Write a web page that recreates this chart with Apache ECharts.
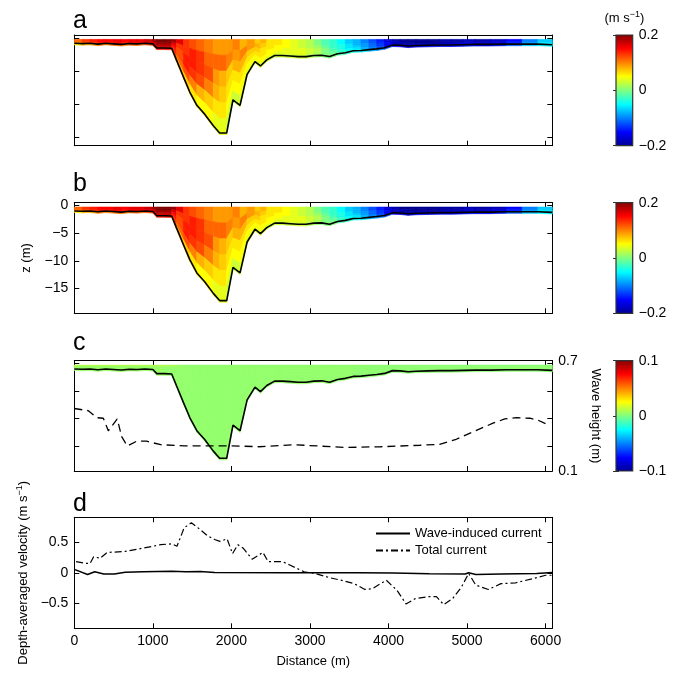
<!DOCTYPE html>
<html>
<head>
<meta charset="utf-8">
<script src="https://cdn.jsdelivr.net/npm/echarts@6/dist/echarts.min.js"></script>
<style>html,body{margin:0;padding:0;background:#fff}#chart{width:683px;height:674px}</style>
</head>
<body>
<div id="chart"></div>
<script>
// ---------------- DATA ----------------
// Transect stations (distance, m) and bed level (z, m)
const stations = [0,100,200,300,400,500,600,700,800,900,1000,1050,1150,1240,1300,1390,1470,1560,1660,1770,1850,1940,2020,2110,2200,2300,2370,2450,2550,2650,2750,2850,2950,3050,3150,3250,3350,3450,3550,3650,3750,3850,3950,4050,4150,4250,4350,4500,4650,4800,4950,5100,5300,5500,5700,5900,6085];
const bedZ = [-1.0,-1.05,-1.0,-1.15,-1.0,-1.1,-1.2,-1.05,-1.1,-1.0,-1.1,-1.85,-1.85,-1.9,-4.0,-7.1,-9.8,-12.2,-13.8,-15.9,-17.2,-17.2,-11.2,-12.2,-6.6,-4.3,-5.1,-4.0,-3.2,-3.2,-3.3,-3.4,-3.4,-3.2,-3.15,-3.4,-2.9,-2.7,-2.35,-2.3,-2.15,-2.0,-1.8,-1.3,-1.35,-1.5,-1.4,-1.35,-1.3,-1.3,-1.25,-1.2,-1.2,-1.15,-1.15,-1.15,-1.25];

// Current velocity (m/s) in 6 terrain-following layers (surface -> bed), one value per cell between stations
const velL1 = [0.11,0.13,0.14,0.15,0.15,0.16,0.15,0.16,0.16,0.17, 0.19,0.2,0.2,0.19,0.16,0.13,0.12,0.11,0.10,0.09, 0.09,0.09,0.10,0.08,0.09,0.07,0.08,0.06,0.06,0.05, 0.04,0.03,0.02,0.0,-0.02,-0.03,-0.05,-0.07,-0.08,-0.10, -0.12,-0.14,-0.17,-0.19,-0.2,-0.2,-0.2,-0.2,-0.19,-0.19, -0.18,-0.19,-0.18,-0.15,-0.10,-0.07];
const velL2 = [0.11,0.13,0.14,0.15,0.15,0.16,0.15,0.16,0.16,0.17, 0.19,0.2,0.2,0.17,0.13,0.13,0.14,0.13,0.11,0.11, 0.11,0.10,0.09,0.10,0.09,0.08,0.07,0.06,0.06,0.05, 0.04,0.03,0.02,0.0,-0.02,-0.03,-0.05,-0.07,-0.08,-0.10, -0.12,-0.14,-0.17,-0.19,-0.2,-0.2,-0.2,-0.2,-0.19,-0.19, -0.18,-0.19,-0.18,-0.15,-0.10,-0.07];
const velL3 = [0.11,0.13,0.14,0.15,0.15,0.16,0.15,0.16,0.16,0.17, 0.18,0.19,0.19,0.15,0.12,0.14,0.14,0.13,0.12,0.09, 0.08,0.07,0.08,0.08,0.07,0.07,0.06,0.06,0.05,0.05, 0.04,0.03,0.02,0.01,-0.01,-0.03,-0.04,-0.06,-0.08,-0.09, -0.11,-0.13,-0.16,-0.18,-0.19,-0.2,-0.2,-0.2,-0.19,-0.19, -0.18,-0.18,-0.17,-0.14,-0.10,-0.07];
const velL4 = [0.10,0.12,0.13,0.14,0.14,0.15,0.14,0.15,0.15,0.16, 0.17,0.18,0.18,0.14,0.12,0.14,0.13,0.12,0.10,0.08, 0.07,0.06,0.06,0.06,0.06,0.06,0.06,0.05,0.05,0.04, 0.04,0.04,0.03,0.02,0.0,-0.02,-0.04,-0.06,-0.07,-0.09, -0.11,-0.13,-0.16,-0.18,-0.19,-0.19,-0.19,-0.19,-0.18,-0.18, -0.17,-0.18,-0.17,-0.14,-0.09,-0.06];
const velL5 = [0.09,0.11,0.12,0.13,0.13,0.14,0.13,0.14,0.14,0.15, 0.16,0.17,0.17,0.13,0.11,0.12,0.10,0.08,0.07,0.06, 0.06,0.05,0.05,0.05,0.05,0.05,0.05,0.05,0.04,0.04, 0.04,0.04,0.03,0.02,0.0,-0.01,-0.03,-0.05,-0.06,-0.08, -0.10,-0.12,-0.15,-0.17,-0.18,-0.18,-0.18,-0.18,-0.17,-0.17, -0.16,-0.17,-0.16,-0.13,-0.09,-0.06];
const velL6 = [0.06,0.08,0.09,0.10,0.10,0.11,0.10,0.11,0.11,0.12, 0.13,0.14,0.14,0.10,0.08,0.07,0.06,0.05,0.05,0.04, 0.04,0.03,0.03,0.04,0.04,0.04,0.04,0.03,0.03,0.03, 0.03,0.03,0.02,0.01,0.0,0.0,-0.02,-0.03,-0.04,-0.06, -0.08,-0.10,-0.12,-0.15,-0.16,-0.16,-0.16,-0.16,-0.15,-0.15, -0.14,-0.15,-0.14,-0.11,-0.07,-0.05];

// Wave-induced velocity (m/s): surface layer and layers below
const waveTopU = [0.012,0.013,0.012,0.012,0.011,0.012,0.011,0.011,0.012,0.011, 0.011,0.010,0.009,0.007,0.005,0.004,0.004,0.004,0.004,0.004, 0.004,0.004,0.004,0.004,0.004,0.004,0.004,0.004,0.004,0.004, 0.004,0.004,0.004,0.004,0.004,0.004,0.004,0.004,0.004,0.003, 0.003,0.003,0.003,0.003,0.003,0.003,0.003,0.003,0.003,0.003, 0.002,0.002,0.002,0.002,0.002,0.002];
const waveLowU = [0.005,0.005,0.005,0.005,0.005,0.005,0.005,0.005,0.005,0.005, 0.005,0.005,0.004,0.004,0.004,0.004,0.004,0.004,0.004,0.004, 0.004,0.004,0.004,0.004,0.004,0.004,0.004,0.004,0.004,0.004, 0.004,0.004,0.004,0.004,0.004,0.004,0.004,0.004,0.003,0.003, 0.003,0.003,0.003,0.003,0.003,0.003,0.003,0.003,0.003,0.003, 0.003,0.003,0.003,0.003,0.003,0.003];

// Wave height (m)
const hsDist = [0,179,285,369,433,547,603,675,794,921,1100,1400,2000,2350,2800,3450,3900,4400,4650,4850,5060,5330,5480,5630,5800,5900,6030];
const hsVal  = [0.44,0.428,0.39,0.387,0.319,0.383,0.287,0.236,0.262,0.262,0.243,0.237,0.237,0.232,0.243,0.228,0.232,0.24,0.245,0.27,0.31,0.36,0.383,0.39,0.387,0.377,0.352];

// Depth-averaged velocity (m/s)
const waveCurDist = [0,169,260,374,510,647,875,1239,1421,1604,1786,2697,3608,4064,4519,4975,5020,5111,5431,5886,6085];
const waveCurVel  = [0.055,-0.027,0.016,-0.02,-0.02,0.01,0.016,0.027,0.016,0.02,0.005,0.0,0.0,-0.005,-0.015,-0.02,0.0,-0.027,-0.02,-0.01,0.005];
const totalDist = [23,146,200,246,328,419,647,875,1102,1239,1307,1330,1399,1490,1604,1695,1786,1854,1945,2014,2082,2150,2264,2401,2469,2651,2743,2925,3061,3244,3426,3563,3699,3790,3972,4109,4223,4337,4519,4610,4702,4815,4929,5020,5111,5271,5431,5613,5840,6000,6085];
const totalVel  = [0.18,0.154,0.15,0.26,0.236,0.33,0.346,0.40,0.456,0.47,0.43,0.40,0.73,0.81,0.70,0.60,0.54,0.51,0.55,0.31,0.456,0.40,0.22,0.33,0.18,0.18,0.126,0.016,-0.01,-0.077,-0.13,-0.176,-0.27,-0.26,-0.12,-0.286,-0.505,-0.42,-0.385,-0.385,-0.516,-0.42,-0.23,-0.01,-0.2,-0.27,-0.176,-0.165,-0.093,-0.04,-0.04];

// Tick values / labels
const panelLetters = ['a','b','c','d'];
const depthTicksA = [0,-6,-12,-18];
const depthTicks = [0,-5,-10,-15];
const hsTicks = [0.1,0.7];
const velTicks = [-0.5,0,0.5];
const cbTicksAB = [-0.2,0,0.2];
const cbTicksC = [-0.1,0,0.1];

// ---------------- CHART ----------------
const FONT = '"Liberation Sans", Arial, sans-serif';
const jet = ['#00008f','#0000ff','#0080ff','#00ffff','#80ff80','#ffff00','#ff8000','#ff0000','#800000'];
const NL = 6, SURF = -0.3, PAD = 0.28;
const minus = v => (v < 0 ? '\u2212' + String(Math.abs(v)) : String(v));

const grids = [
  {left:74.3, width:478, top:35, height:110.7},
  {left:74.3, width:478, top:202.7, height:110.6},
  {left:74.3, width:478, top:360.7, height:110.3},
  {left:74.3, width:478, top:517.3, height:111},
  {left:616, width:16.7, top:35, height:110.7},
  {left:616, width:16.7, top:202.7, height:110.6},
  {left:616, width:16.7, top:360.7, height:110.3}
];

function xAx(gi, position, showLabels, extra) {
  return Object.assign({
    type:'value', gridIndex:gi, position, min:0, max:6085, interval:1000,
    axisLine:{show:true, onZero:false, lineStyle:{color:'#000', width:1}},
    axisTick:{show:true, inside:true, length:5, lineStyle:{color:'#000'}},
    axisLabel:{show:showLabels, formatter:v => String(v), color:'#000', fontSize:14, fontFamily:FONT, margin:6},
    splitLine:{show:false}
  }, extra || {});
}
function yAx(gi, position, min, max, ticks, showLabels, extra) {
  return Object.assign({
    type:'value', gridIndex:gi, position, min, max,
    axisLine:{show:true, onZero:false, lineStyle:{color:'#000', width:1}},
    axisTick:{show:true, inside:true, length:5, customValues:ticks, lineStyle:{color:'#000'}},
    axisLabel:{show:showLabels, customValues:ticks, formatter:minus, color:'#000', fontSize:14, fontFamily:FONT, margin:6},
    splitLine:{show:false}
  }, extra || {});
}
function cbX(gi, extra) {
  return Object.assign({type:'value', gridIndex:gi, position:'top', min:0, max:1,
    axisLine:{show:false}, axisTick:{show:false}, axisLabel:{show:false}, splitLine:{show:false}}, extra || {});
}
function cbY(gi, position, min, max, ticks, showLabels) {
  return {type:'value', gridIndex:gi, position, min, max,
    axisLine:{show:false},
    axisTick:{show:true, inside:true, length:3, customValues:ticks, lineStyle:{color:'#333'}},
    axisLabel:{show:showLabels, customValues:ticks, formatter:minus, color:'#000', fontSize:14, fontFamily:FONT, margin:6},
    splitLine:{show:false}};
}
const nameStyle = {color:'#000', fontSize:13, fontFamily:FONT};
const richUnit = {
  t:{fontSize:13, fontFamily:FONT, color:'#000', lineHeight:16},
  s:{fontSize:9, fontFamily:FONT, color:'#000', verticalAlign:'top', lineHeight:9}
};

const xAxes = [
  xAx(0,'bottom',false), xAx(0,'top',false),
  xAx(1,'bottom',false), xAx(1,'top',false),
  xAx(2,'bottom',false), xAx(2,'top',false),
  xAx(3,'bottom',true,{name:'Distance (m)', nameLocation:'middle', nameGap:27, nameTextStyle:nameStyle}),
  xAx(3,'top',false),
  cbX(4,{name:'{t|(m s}{s|\u22121}{t|)}', nameLocation:'middle', nameGap:9, nameTextStyle:{rich:richUnit}}),
  cbX(5), cbX(6)
];
const yAxes = [
  yAx(0,'left',-19.5,0.5,depthTicksA,false), yAx(0,'right',-19.5,0.5,depthTicksA,false),
  yAx(1,'left',-19.5,0.5,depthTicks,true,{name:'z (m)', nameLocation:'middle', nameGap:41, nameTextStyle:nameStyle}),
  yAx(1,'right',-19.5,0.5,depthTicks,false),
  yAx(2,'left',-19.5,0.5,depthTicks,false), yAx(2,'right',-19.5,0.5,depthTicks,false),
  yAx(2,'right',0.1,0.7,hsTicks,true,{name:'Wave height (m)', nameLocation:'middle', nameRotate:-90, nameGap:33, nameTextStyle:nameStyle,
      axisTick:{show:false}, axisLine:{show:false}}),
  yAx(3,'left',-0.9,0.9,velTicks,true,{name:'{t|Depth-averaged velocity (m s}{s|\u22121}{t|)}', nameLocation:'middle', nameGap:35, nameTextStyle:{rich:richUnit}}),
  yAx(3,'right',-0.9,0.9,velTicks,false),
  cbY(4,'right',-0.2,0.2,cbTicksAB,true), cbY(4,'left',-0.2,0.2,cbTicksAB,false),
  cbY(5,'right',-0.2,0.2,cbTicksAB,true), cbY(5,'left',-0.2,0.2,cbTicksAB,false),
  cbY(6,'right',-0.1,0.1,cbTicksC,true), cbY(6,'left',-0.1,0.1,cbTicksC,false)
];

function fieldItems(layers) {
  const out = [];
  layers.forEach((arr, k) => arr.forEach((v, j) => out.push([j, k, v])));
  return out;
}
function renderCell(params, api) {
  const j = api.value(0), k = api.value(1);
  const zz = (jj, f) => SURF + (bedZ[jj] - PAD - SURF) * f;
  const pts = [
    api.coord([stations[j], zz(j, k / NL)]),
    api.coord([stations[j + 1], zz(j + 1, k / NL)]),
    api.coord([stations[j + 1], zz(j + 1, (k + 1) / NL)]),
    api.coord([stations[j], zz(j, (k + 1) / NL)])
  ];
  const c = api.visual('color');
  return {type:'polygon', shape:{points:pts}, style:{fill:c, stroke:c, lineWidth:0.7}};
}
function fieldSeries(xi, yi, data) {
  return {type:'custom', coordinateSystem:'cartesian2d', xAxisIndex:xi, yAxisIndex:yi,
    renderItem:renderCell, data, clip:true, silent:true, encode:{x:-1, y:-1}};
}
const bedLine = stations.map((s, i) => [s, bedZ[i]]);
function bedSeries(xi, yi) {
  return {type:'line', xAxisIndex:xi, yAxisIndex:yi, data:bedLine, symbol:'none', silent:true,
    lineStyle:{color:'#000', width:1.6}, z:3};
}
function cbSeries(xi, yi, lo, hi) {
  return {type:'custom', coordinateSystem:'cartesian2d', xAxisIndex:xi, yAxisIndex:yi, silent:true,
    data:[[0, lo, 1, hi]],
    renderItem:(p, api) => {
      const a = api.coord([api.value(0), api.value(3)]);
      const b = api.coord([api.value(2), api.value(1)]);
      const stops = jet.slice().reverse().map((c, i) => ({offset:i / (jet.length - 1), color:c}));
      return {type:'rect', shape:{x:a[0], y:a[1], width:b[0] - a[0], height:b[1] - a[1]},
        style:{fill:new echarts.graphic.LinearGradient(0, 0, 0, 1, stops), stroke:'#333', lineWidth:1.2}};
    }};
}

const velLayers = [velL1, velL2, velL3, velL4, velL5, velL6];
const waveLayers = [waveTopU, waveLowU, waveLowU, waveLowU, waveLowU, waveLowU];

const option = {
  backgroundColor:'#fff',
  animation:false,
  title: panelLetters.map((t, i) => ({text:t, left:73, top:[9, 172, 331, 492][i], padding:0,
    textStyle:{fontSize:25, fontWeight:'normal', color:'#000', fontFamily:FONT}})),
  grid: grids,
  xAxis: xAxes,
  yAxis: yAxes,
  visualMap: [
    {type:'continuous', show:false, min:-0.2, max:0.2, dimension:2, seriesIndex:[0, 2], inRange:{color:jet}},
    {type:'continuous', show:false, min:-0.1, max:0.1, dimension:2, seriesIndex:[4], inRange:{color:jet}}
  ],
  legend: {data:['Wave-induced current', 'Total current'], orient:'vertical', left:375, top:527, padding:0,
    itemWidth:34, itemHeight:12, itemGap:4,
    itemStyle:{color:'rgba(0,0,0,0)', borderWidth:0, opacity:0},
    textStyle:{fontSize:13, fontFamily:FONT, color:'#000'}},
  series: [
    fieldSeries(0, 0, fieldItems(velLayers)),
    bedSeries(0, 0),
    fieldSeries(2, 2, fieldItems(velLayers)),
    bedSeries(2, 2),
    fieldSeries(4, 4, fieldItems(waveLayers)),
    bedSeries(4, 4),
    {type:'line', name:'Wave height', xAxisIndex:4, yAxisIndex:6, data:hsDist.map((d, i) => [d, hsVal[i]]),
      symbol:'none', lineStyle:{color:'#000', width:1.3, type:[8, 5]}, z:4},
    {type:'line', name:'Wave-induced current', xAxisIndex:6, yAxisIndex:7, data:waveCurDist.map((d, i) => [d, waveCurVel[i]]),
      symbol:'none', lineStyle:{color:'#000', width:1.5}, itemStyle:{color:'#000'}},
    {type:'line', name:'Total current', xAxisIndex:6, yAxisIndex:7, data:totalDist.map((d, i) => [d, totalVel[i]]),
      symbol:'none', lineStyle:{color:'#000', width:1.2, type:[7, 3, 2, 3]}, itemStyle:{color:'#000'}},
    cbSeries(8, 9, -0.2, 0.2),
    cbSeries(9, 11, -0.2, 0.2),
    cbSeries(10, 13, -0.1, 0.1)
  ]
};
const chart = echarts.init(document.getElementById('chart'), null, {renderer:'canvas'});
chart.setOption(option);
</script>
</body>
</html>
